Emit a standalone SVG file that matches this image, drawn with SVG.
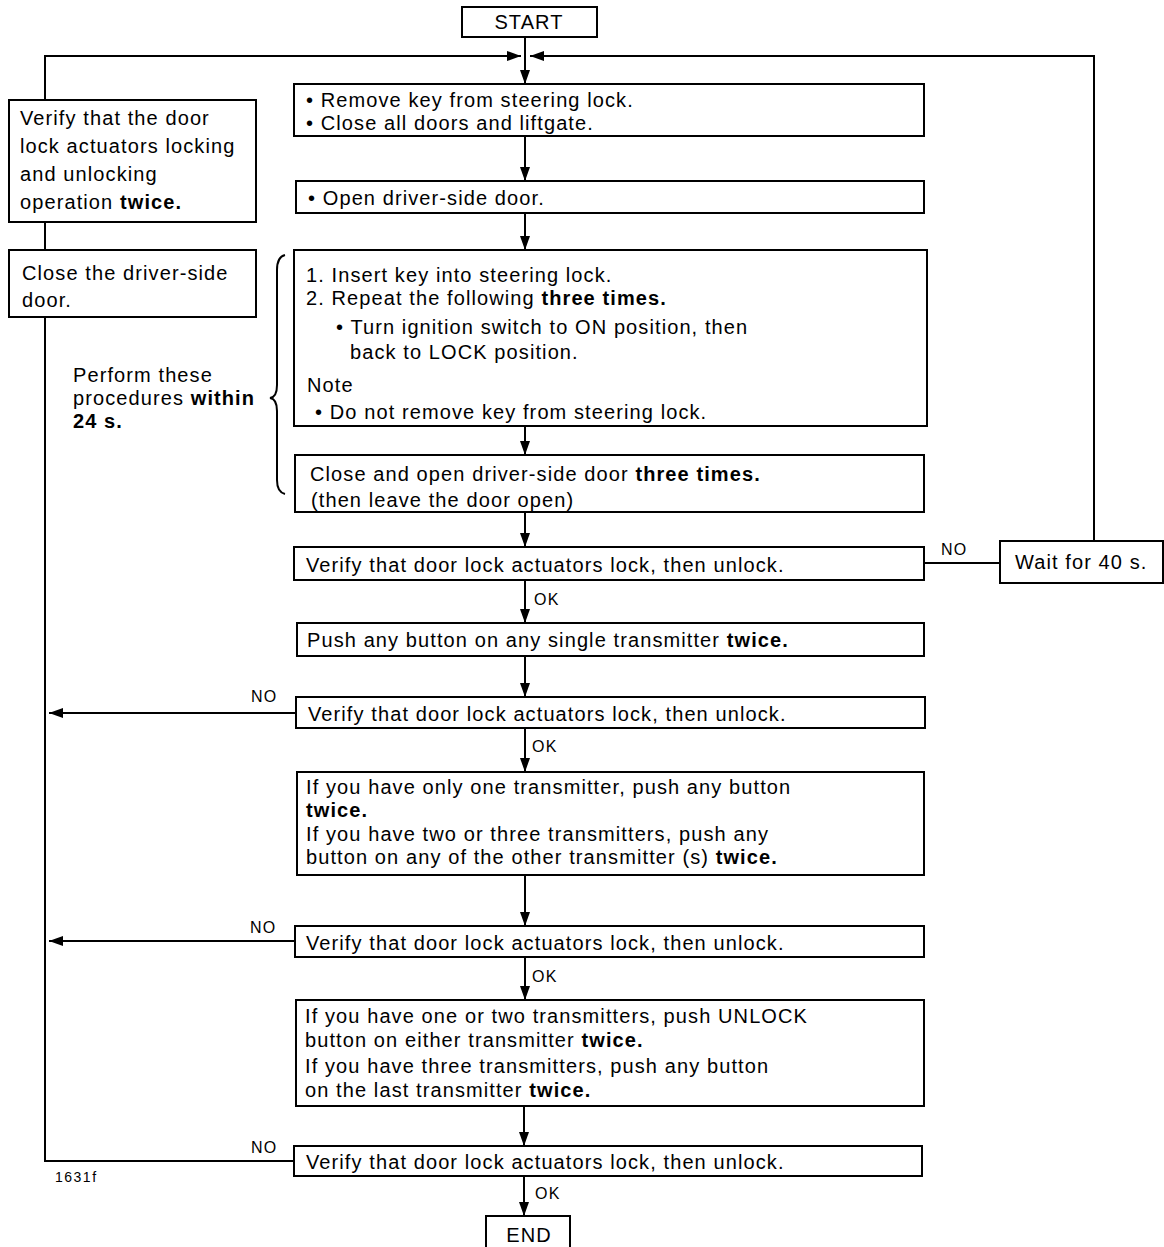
<svg xmlns="http://www.w3.org/2000/svg" width="1164" height="1247" viewBox="0 0 1164 1247">
<defs>
<marker id="ah" markerUnits="userSpaceOnUse" markerWidth="14" markerHeight="10" refX="14" refY="5" orient="auto">
<path d="M0,0 L14,5 L0,10 z" fill="#000"/>
</marker>
<style>
rect{fill:#fff;stroke:#000;stroke-width:2}
text{font-family:"Liberation Sans",Arial,sans-serif;font-size:20px;letter-spacing:1.1px;fill:#000}
.b{font-weight:bold}
.lbl{font-size:16px;letter-spacing:1.3px}
.c{text-anchor:middle}
#connectors path,#connectors line{fill:none;stroke:#000;stroke-width:2}
</style>
</defs>
<rect x="0" y="0" width="1164" height="1247" style="stroke:none;fill:#fff"/>
<g id="connectors">
<line x1="525" y1="37" x2="525" y2="84" marker-end="url(#ah)"/>
<path d="M45,100 L45,56 L521,56" marker-end="url(#ah)"/>
<path d="M1094,541 L1094,56 L530,56" marker-end="url(#ah)"/>
<line x1="45" y1="222" x2="45" y2="250"/>
<path d="M294,1161 L45,1161 L45,317"/>
<line x1="525" y1="136" x2="525" y2="181" marker-end="url(#ah)"/>
<line x1="525" y1="213" x2="525" y2="250" marker-end="url(#ah)"/>
<line x1="525" y1="426" x2="525" y2="455" marker-end="url(#ah)"/>
<line x1="525" y1="512" x2="525" y2="547" marker-end="url(#ah)"/>
<line x1="924" y1="563" x2="1000" y2="563"/>
<line x1="525" y1="580" x2="525" y2="623" marker-end="url(#ah)"/>
<line x1="525" y1="656" x2="525" y2="697" marker-end="url(#ah)"/>
<line x1="296" y1="713" x2="49" y2="713" marker-end="url(#ah)"/>
<line x1="525" y1="728" x2="525" y2="772" marker-end="url(#ah)"/>
<line x1="525" y1="875" x2="525" y2="926" marker-end="url(#ah)"/>
<line x1="295" y1="941" x2="49" y2="941" marker-end="url(#ah)"/>
<line x1="525" y1="957" x2="525" y2="1000" marker-end="url(#ah)"/>
<line x1="524" y1="1106" x2="524" y2="1146" marker-end="url(#ah)"/>
<line x1="524" y1="1176" x2="524" y2="1216" marker-end="url(#ah)"/>
<path d="M285,255 Q277,257 277,270 L277,385 Q277,397 270,398 Q277,399 277,411 L277,480 Q277,492 285,494"/>
<text class="lbl" x="941" y="555">NO</text>
<text class="lbl" x="534" y="605">OK</text>
<text class="lbl" x="251" y="702">NO</text>
<text class="lbl" x="532" y="752">OK</text>
<text class="lbl" x="250" y="933">NO</text>
<text class="lbl" x="532" y="982">OK</text>
<text class="lbl" x="251" y="1153">NO</text>
<text class="lbl" x="535" y="1199">OK</text>
</g>
<g id="start"><rect x="462" y="7" width="135" height="30"/><text class="c" x="529" y="29">START</text></g>
<g id="verify-twice"><rect x="9" y="100" width="247" height="122"/>
<text x="20" y="125">Verify that the door</text>
<text x="20" y="153">lock actuators locking</text>
<text x="20" y="181">and unlocking</text>
<text x="20" y="209">operation <tspan class="b">twice.</tspan></text></g>
<g id="close-door"><rect x="9" y="250" width="247" height="67"/>
<text x="22" y="280">Close the driver-side</text>
<text x="22" y="307">door.</text></g>
<g id="within-note">
<text x="73" y="382">Perform these</text>
<text x="73" y="405">procedures <tspan class="b">within</tspan></text>
<text class="b" x="73" y="428">24 s.</text></g>
<g id="step1"><rect x="294" y="84" width="630" height="52"/>
<text x="306" y="107">• Remove key from steering lock.</text>
<text x="306" y="130">• Close all doors and liftgate.</text></g>
<g id="step2"><rect x="296" y="181" width="628" height="32"/>
<text x="308" y="205">• Open driver-side door.</text></g>
<g id="step3"><rect x="294" y="250" width="633" height="176"/>
<text x="306" y="282">1. Insert key into steering lock.</text>
<text x="306" y="305">2. Repeat the following <tspan class="b">three times.</tspan></text>
<text x="336" y="334">• Turn ignition switch to ON position, then</text>
<text x="350" y="359">back to LOCK position.</text>
<text x="307" y="392">Note</text>
<text x="315" y="419">• Do not remove key from steering lock.</text></g>
<g id="step4"><rect x="295" y="455" width="629" height="57"/>
<text x="310" y="481">Close and open driver-side door <tspan class="b">three times.</tspan></text>
<text x="311" y="507">(then leave the door open)</text></g>
<g id="check1"><rect x="294" y="547" width="630" height="33"/>
<text x="306" y="572">Verify that door lock actuators lock, then unlock.</text></g>
<g id="wait"><rect x="1000" y="541" width="163" height="42"/>
<text x="1015" y="569">Wait for 40 s.</text></g>
<g id="push1"><rect x="297" y="623" width="627" height="33"/>
<text x="307" y="647">Push any button on any single transmitter <tspan class="b">twice.</tspan></text></g>
<g id="check2"><rect x="296" y="697" width="629" height="31"/>
<text x="308" y="721">Verify that door lock actuators lock, then unlock.</text></g>
<g id="push2"><rect x="297" y="772" width="627" height="103"/>
<text x="306" y="794">If you have only one transmitter, push any button</text>
<text class="b" x="306" y="817">twice.</text>
<text x="306" y="841">If you have two or three transmitters, push any</text>
<text x="306" y="864">button on any of the other transmitter (s) <tspan class="b">twice.</tspan></text></g>
<g id="check3"><rect x="295" y="926" width="629" height="31"/>
<text x="306" y="950">Verify that door lock actuators lock, then unlock.</text></g>
<g id="push3"><rect x="296" y="1000" width="628" height="106"/>
<text x="305" y="1023">If you have one or two transmitters, push UNLOCK</text>
<text x="305" y="1047">button on either transmitter <tspan class="b">twice.</tspan></text>
<text x="305" y="1073">If you have three transmitters, push any button</text>
<text x="305" y="1097">on the last transmitter <tspan class="b">twice.</tspan></text></g>
<g id="check4"><rect x="294" y="1146" width="628" height="30"/>
<text x="306" y="1169">Verify that door lock actuators lock, then unlock.</text></g>
<g id="end"><rect x="486" y="1216" width="84" height="40"/><text class="c" x="529" y="1242">END</text></g>
<text x="55" y="1182" style="font-size:14px;letter-spacing:1.5px">1631f</text>
</svg>
